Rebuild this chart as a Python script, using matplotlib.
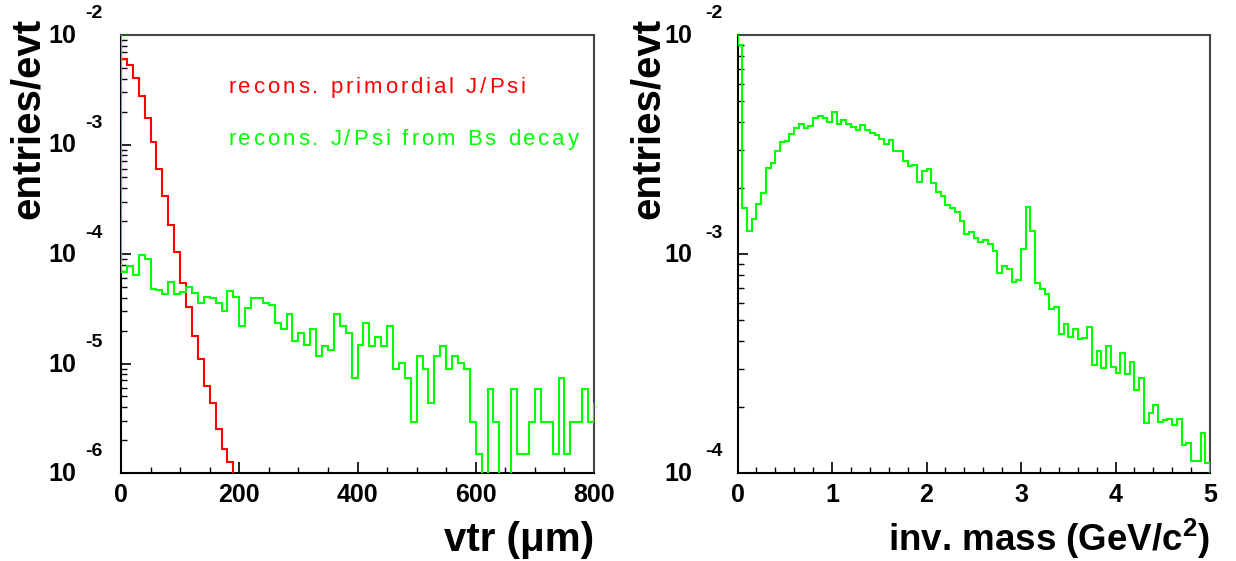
import numpy as np
import matplotlib
matplotlib.use("Agg")
import matplotlib.pyplot as plt
from matplotlib.textpath import TextToPath
from matplotlib.font_manager import FontProperties

# ---------------- data ----------------
vtr_edges = np.arange(0, 801, 10)          # µm, 80 bins
red_vtr = [6.1e-3, 5.3e-3, 4.07e-3, 2.77e-3, 1.76e-3, 1.05e-3, 6.0e-4, 3.37e-4,
           1.84e-4, 1.04e-4, 5.47e-5, 3.26e-5, 1.79e-5, 1.11e-5, 6.27e-6, 4.36e-6,
           2.52e-6, 1.66e-6, 1.25e-6] + [0.0] * 61
green_vtr = [6.90e-5, 7.82e-5, 6.43e-5, 9.80e-5, 8.93e-5, 4.78e-5, 4.69e-5, 4.28e-5,
             5.58e-5, 4.28e-5, 4.53e-5, 4.96e-5, 4.43e-5, 3.55e-5, 4.07e-5, 3.94e-5,
             3.55e-5, 3.03e-5, 4.62e-5, 4.07e-5, 2.20e-5, 3.24e-5, 3.94e-5, 3.94e-5,
             3.54e-5, 3.42e-5, 2.36e-5, 2.05e-5, 2.81e-5, 1.60e-5, 1.91e-5, 1.47e-5,
             2.05e-5, 1.17e-5, 1.46e-5, 1.32e-5, 2.81e-5, 2.20e-5, 1.91e-5, 7.31e-6,
             1.47e-5, 2.36e-5, 1.46e-5, 1.76e-5, 1.46e-5, 2.20e-5, 8.85e-6, 1.02e-5,
             7.31e-6, 2.90e-6, 1.17e-5, 8.85e-6, 4.39e-6, 1.17e-5, 1.46e-5, 8.85e-6,
             1.17e-5, 1.02e-5, 8.85e-6, 2.94e-6, 1.48e-6, 0.0, 5.85e-6, 2.94e-6,
             0.0, 0.0, 5.85e-6, 1.48e-6, 1.48e-6, 2.94e-6, 5.85e-6, 2.94e-6,
             2.94e-6, 1.48e-6, 7.31e-6, 1.48e-6, 2.94e-6, 2.94e-6, 5.85e-6, 2.94e-6]
green_vtr_under = 2e-2
green_vtr_over = 4.39e-6

mass_edges = np.round(np.arange(0, 5.0001, 0.05), 3)   # GeV/c^2, 100 bins
green_mass = [9.0e-3, 1.62e-3, 1.27e-3, 1.45e-3, 1.69e-3, 1.90e-3, 2.46e-3, 2.61e-3,
              2.95e-3, 3.26e-3, 3.29e-3, 3.52e-3, 3.77e-3, 3.91e-3, 3.75e-3, 3.84e-3,
              4.19e-3, 4.28e-3, 4.16e-3, 3.99e-3, 4.47e-3, 3.93e-3, 4.11e-3, 3.91e-3,
              3.81e-3, 3.68e-3, 3.88e-3, 3.67e-3, 3.56e-3, 3.49e-3, 3.35e-3, 3.17e-3,
              3.33e-3, 2.95e-3, 2.95e-3, 2.66e-3, 2.53e-3, 2.55e-3, 2.13e-3, 2.40e-3,
              2.45e-3, 2.12e-3, 1.92e-3, 1.84e-3, 1.68e-3, 1.62e-3, 1.55e-3, 1.42e-3,
              1.23e-3, 1.26e-3, 1.18e-3, 1.14e-3, 1.16e-3, 1.11e-3, 1.03e-3, 8.22e-4,
              8.85e-4, 8.57e-4, 7.45e-4, 7.61e-4, 1.05e-3, 1.64e-3, 1.28e-3, 7.40e-4,
              6.90e-4, 6.57e-4, 5.62e-4, 5.74e-4, 4.31e-4, 4.79e-4, 4.16e-4, 4.55e-4,
              4.07e-4, 4.12e-4, 4.66e-4, 3.11e-4, 3.60e-4, 3.03e-4, 3.81e-4, 3.05e-4,
              2.87e-4, 3.54e-4, 2.82e-4, 3.20e-4, 2.39e-4, 2.72e-4, 1.69e-4, 1.88e-4,
              2.05e-4, 1.71e-4, 1.75e-4, 1.76e-4, 1.66e-4, 1.76e-4, 1.34e-4, 1.37e-4,
              1.14e-4, 1.14e-4, 1.52e-4, 1.11e-4]
green_mass_under = 2e-2
green_mass_over = 0.0

vtr_ticks = [0, 200, 400, 600, 800]
mass_ticks = [0, 1, 2, 3, 4, 5]
vtr_decades = [-6, -5, -4, -3, -2]
mass_decades = [-4, -3, -2]

legend_red = "recons. primordial J/Psi"
legend_green = "recons. J/Psi from Bs decay"
ylabel = "entries/evt"
xlabel_vtr = "vtr (\u03bcm)"
xlabel_mass = "inv. mass (GeV/c$^{2}$)"

# ---------------- style ----------------
plt.rcParams['font.family'] = ['Liberation Sans', 'DejaVu Sans']
plt.rcParams['mathtext.fontset'] = 'custom'
plt.rcParams['mathtext.rm'] = 'Liberation Sans:bold'
plt.rcParams['mathtext.it'] = 'Liberation Sans:bold'
plt.rcParams['mathtext.bf'] = 'Liberation Sans:bold'

RED = (1.0, 0.0, 0.0)
GREEN = (0.0, 1.0, 0.0)
LW = 1.5

W, H = 1236, 561
fig = plt.figure(figsize=(W / 100, H / 100), dpi=100)
fig.patch.set_facecolor('white')

def px_axes(l, r, t, b):
    return fig.add_axes([l / W, 1 - b / H, (r - l) / W, (b - t) / H])

ax1 = px_axes(121, 594, 35, 473)
ax2 = px_axes(737.5, 1210, 35, 473)

def pos(v):
    v = np.asarray(v, dtype=float)
    return np.where(v > 0, v, 1e-12)

def hist_with_flows(ax, edges, vals, under, over, color):
    e = np.concatenate([[edges[0]], edges, [edges[-1]]])
    v = np.concatenate([[under], vals, [over]])
    ax.stairs(pos(v), e, baseline=None, color=color, lw=LW, zorder=3)

# left panel
ax1.stairs(pos(red_vtr), vtr_edges, baseline=None, color=RED, lw=LW, zorder=3)
hist_with_flows(ax1, vtr_edges, green_vtr, green_vtr_under, green_vtr_over, GREEN)
# right panel
hist_with_flows(ax2, mass_edges, green_mass, green_mass_under, green_mass_over, GREEN)

def style_axes(ax, xlim, ylim, xticks, xminor, decades, xlabel, xlsize, exp_dx, right_px):
    ax.set_yscale('log')
    ax.set_xlim(*xlim)
    ax.set_ylim(*ylim)
    ax.set_xticks(xticks)
    ax.set_xticklabels([str(t) for t in xticks], fontsize=18, fontweight='bold')
    ax.set_xticks(xminor, minor=True)
    ax.set_yticks([10.0 ** d for d in decades])
    ax.set_yticklabels([''] * len(decades))
    minors = []
    for d in decades[:-1]:
        minors += [k * 10.0 ** d for k in range(2, 10)]
    ax.set_yticks(minors, minor=True)
    ax.yaxis.set_minor_formatter(matplotlib.ticker.NullFormatter())
    ax.tick_params(axis='x', which='major', direction='in', length=8, width=1.2, pad=7)
    ax.tick_params(axis='x', which='minor', direction='in', length=4, width=1.0)
    ax.tick_params(axis='y', which='major', direction='in', length=7, width=1.2)
    ax.tick_params(axis='y', which='minor', direction='in', length=4, width=1.0)
    for s in ax.spines.values():
        s.set_linewidth(1.5)
    ax.spines['top'].set_color('#444444')
    ax.spines['right'].set_color('#444444')
    for d in decades:
        ax.annotate("10", xy=(0, 10.0 ** d), xycoords=('axes fraction', 'data'),
                    xytext=(-45, -1), textcoords='offset pixels', ha='right', va='center',
                    fontsize=18, fontweight='bold')
        ax.annotate(str(d), xy=(0, 10.0 ** d), xycoords=('axes fraction', 'data'),
                    xytext=(exp_dx, 21), textcoords='offset pixels', ha='right', va='center',
                    fontsize=14, fontweight='bold')
    fig.text(right_px / W, 1 - 551 / H, xlabel, fontsize=xlsize, fontweight='bold',
             ha='right', va='baseline')

style_axes(ax1, (0, 800), (1e-6, 1e-2), vtr_ticks, np.arange(0, 801, 50),
           vtr_decades, xlabel_vtr, 29, -18, 594)
style_axes(ax2, (0, 5), (1e-4, 1e-2), mass_ticks, np.round(np.arange(0, 5.01, 0.2), 2),
           mass_decades, xlabel_mass, 26.5, -15, 1210)

fig.text(28 / W, 1 - 18 / H, ylabel, rotation=90, ha='center', va='top',
         fontsize=29, fontweight='bold')
fig.text(648 / W, 1 - 18 / H, ylabel, rotation=90, ha='center', va='top',
         fontsize=29, fontweight='bold')

# letter-spaced legend text (ROOT-like rendering)
_ttp = TextToPath()
_prop = FontProperties(family='Liberation Sans', size=16)
_bar_w = _ttp.get_text_width_height_descent('|', _prop, ismath=False)[0]

def spaced_text(s, x0_px, base_px, color, spacing_px=2.9):
    for i, ch in enumerate(s):
        if ch == ' ':
            continue
        w_pt = _ttp.get_text_width_height_descent(s[:i] + '|', _prop, ismath=False)[0] - _bar_w
        x = x0_px + w_pt * 100 / 72 + i * spacing_px
        fig.text(x / W, 1 - base_px / H, ch, color=color, fontproperties=_prop,
                 ha='left', va='baseline')

spaced_text(legend_red, 228, 93, RED)
spaced_text(legend_green, 228, 145, GREEN)

fig.savefig("out.png", dpi=100)
